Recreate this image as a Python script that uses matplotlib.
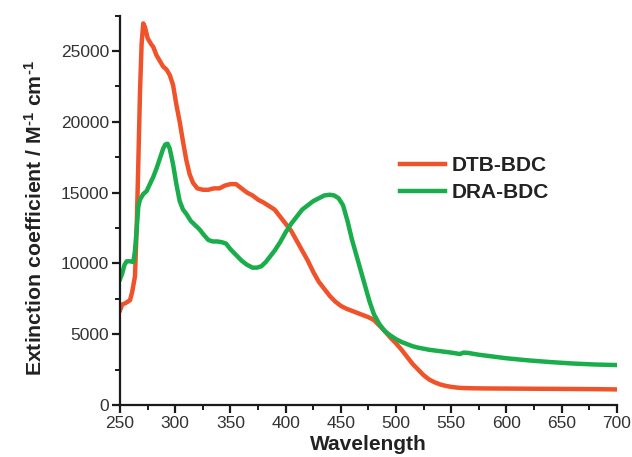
import matplotlib
matplotlib.use("Agg")
import matplotlib.pyplot as plt
from matplotlib.ticker import MultipleLocator

plt.rcParams['font.family'] = ['Liberation Sans', 'DejaVu Sans']
plt.rcParams['mathtext.fontset'] = 'custom'
plt.rcParams['mathtext.rm'] = 'Liberation Sans:bold'
plt.rcParams['mathtext.bf'] = 'Liberation Sans:bold'
plt.rcParams['mathtext.default'] = 'bf'

# DTB-BDC (orange)
dtb_wl = [250, 252, 255, 259, 261, 263.5, 265, 266.5, 268, 269.5, 271, 272.5, 275, 278, 280, 283, 286, 289,
          292, 295, 298, 301, 304, 307, 310, 313, 316, 320, 325, 330, 335, 340, 345, 350, 355, 360,
          365, 370, 375, 380, 385, 390, 395, 400, 405, 410, 415, 420, 425, 430, 435, 440, 445, 450,
          455, 460, 465, 470, 475, 480, 485, 490, 495, 500, 505, 510, 515, 520, 525, 530, 535, 540,
          545, 550, 555, 560, 570, 580, 600, 620, 640, 660, 680, 700]
dtb_val = [6700, 7100, 7200, 7400, 8000, 9100, 12400, 17000, 22000, 25500, 26950, 26700, 25900, 25500, 25300, 24700, 24300, 23900,
           23700, 23300, 22600, 21200, 20000, 18600, 17300, 16300, 15700, 15300, 15200, 15200, 15300, 15300, 15500, 15600, 15600, 15300,
           15000, 14800, 14500, 14300, 14050, 13800, 13300, 12800, 12300, 11600, 10900, 10200, 9400, 8700, 8200, 7700, 7300, 7000,
           6800, 6650, 6500, 6350, 6200, 6000, 5600, 5200, 4750, 4350, 3900, 3400, 2900, 2500, 2100, 1800, 1600, 1450,
           1350, 1280, 1230, 1200, 1180, 1170, 1160, 1150, 1140, 1130, 1120, 1100]

# DRA-BDC (green)
dra_wl = [250, 252, 254, 256, 259, 262, 263.5, 265, 266.5, 268, 271, 274, 277, 280, 283, 286, 289, 291, 293,
          295, 298, 301, 304, 307, 310, 314, 318, 322, 326, 330, 334, 338, 342, 346, 350, 355, 360,
          365, 370, 374, 378, 382, 386, 390, 395, 400, 405, 410, 415, 420, 425, 430, 435, 440, 444,
          448, 452, 456, 460, 464, 468, 472, 476, 480, 485, 490, 495, 500, 505, 510, 515, 520, 530,
          540, 550, 558, 561, 565, 575, 590, 600, 620, 640, 660, 680, 700]
dra_val = [8900, 9300, 9900, 10150, 10150, 10100, 10900, 12400, 14000, 14500, 14900, 15100, 15600, 16100, 16700, 17400, 18100, 18400, 18450,
           18100, 17000, 15600, 14400, 13800, 13500, 13000, 12700, 12400, 12000, 11650, 11550, 11550, 11500, 11400, 11000, 10600, 10200,
           9900, 9700, 9700, 9800, 10100, 10500, 10900, 11500, 12200, 12800, 13300, 13800, 14100, 14400, 14600, 14800, 14850, 14800,
           14600, 14100, 13000, 11700, 10600, 9500, 8400, 7300, 6400, 5700, 5200, 4900, 4650, 4450, 4300, 4150, 4050, 3900,
           3800, 3700, 3600, 3700, 3680, 3550, 3400, 3300, 3150, 3030, 2930, 2860, 2820]

fig = plt.figure(figsize=(6.32, 4.57), dpi=100)
ax = fig.add_axes([0.19, 0.1138, 0.786, 0.852])

orange = '#f0522a'
green = '#1aad4b'
ax.plot(dtb_wl, dtb_val, color=orange, lw=3.2, label='DTB-BDC', solid_joinstyle='round')
ax.plot(dra_wl, dra_val, color=green, lw=3.2, label='DRA-BDC', solid_joinstyle='round')

ax.set_xlim(250, 700)
ax.set_ylim(0, 27500)
ax.xaxis.set_major_locator(MultipleLocator(50))
ax.xaxis.set_minor_locator(MultipleLocator(25))
ax.yaxis.set_major_locator(MultipleLocator(5000))
ax.yaxis.set_minor_locator(MultipleLocator(2500))

for s in ['top', 'right']:
    ax.spines[s].set_visible(False)
for s in ['left', 'bottom']:
    ax.spines[s].set_linewidth(1.6)
    ax.spines[s].set_color('#1a1a1a')

ax.tick_params(axis='both', which='major', direction='out', length=6, width=1.6,
               labelsize=12.5, colors='#1a1a1a', labelcolor='#333333', pad=2)
ax.tick_params(axis='both', which='minor', direction='out', length=3.5, width=1.4, colors='#1a1a1a')

ax.set_xlabel('Wavelength', fontsize=15, fontweight='bold', color='#222222', labelpad=3)
ax.set_ylabel('Extinction coefficient / M$^{\\text{-}1}$ cm$^{\\text{-}1}$', fontsize=15.3,
              fontweight='bold', color='#222222', labelpad=11)
ax.yaxis.label.set_y(0.48)

leg = ax.legend(loc='upper left', bbox_to_anchor=(0.563, 0.64), frameon=False,
                borderaxespad=0, borderpad=0,
                handlelength=2.15, handletextpad=0.35, labelspacing=0.4,
                prop={'weight': 'bold', 'size': 15})
for t in leg.get_texts():
    t.set_color('#222222')

fig.savefig('out.png', dpi=100)
